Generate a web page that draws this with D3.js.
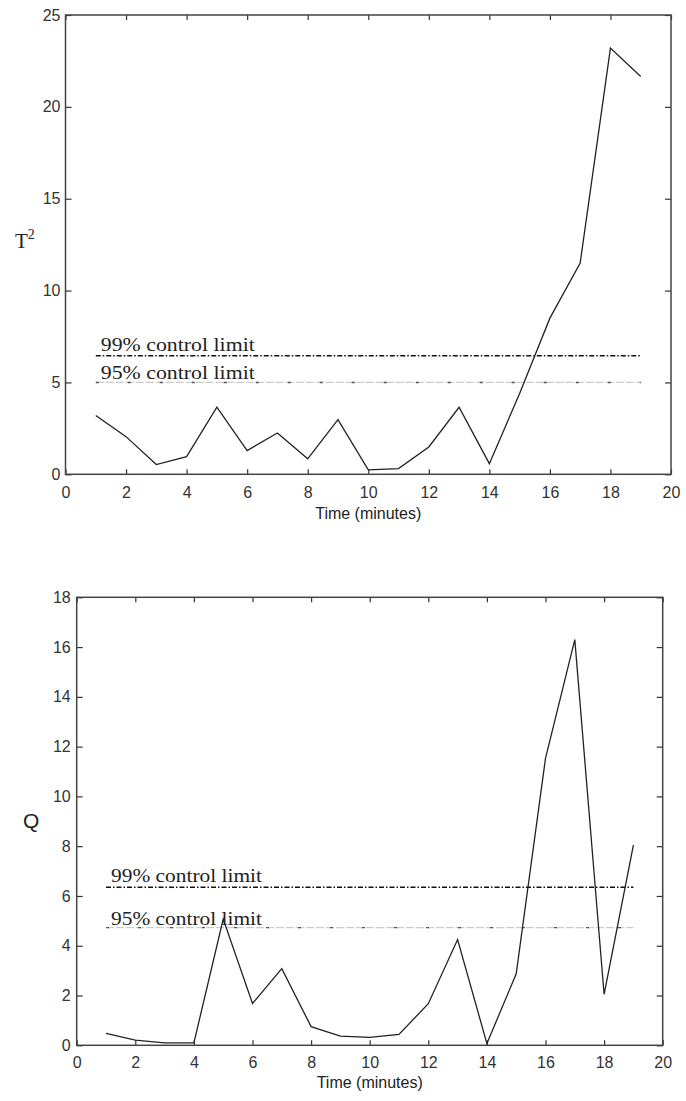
<!DOCTYPE html>
<html>
<head>
<meta charset="utf-8">
<script src="https://cdn.jsdelivr.net/npm/d3@7"></script>
<style>
  body { margin: 0; background: #fff; }
  svg { display: block; }
  .tick text { font-family: "Liberation Sans", Arial, sans-serif; font-size: 16px; fill: #333; }
</style>
</head>
<body>
<div id="chart"></div>
<script>
// time axis (minutes)
var minutes = [1,2,3,4,5,6,7,8,9,10,11,12,13,14,15,16,17,18,19]

// T^2 statistic
var t2Values = [3.2, 2.05, 0.53, 0.96, 3.65, 1.29, 2.25, 0.84, 2.98, 0.24, 0.31, 1.49, 3.65, 0.58, 4.4, 8.5, 11.5, 23.2, 21.65]
var t2Limit99 = 6.45
var t2Limit95 = 5.0

// Q statistic
var qValues = [0.48, 0.21, 0.1, 0.1, 5.07, 1.68, 3.08, 0.75, 0.37, 0.32, 0.44, 1.67, 4.25, 0.07, 2.87, 11.53, 16.3, 2.05, 8.04]
var qLimit99 = 6.35
var qLimit95 = 4.73

var xTicks = [0,2,4,6,8,10,12,14,16,18,20]
var t2Ticks = [0,5,10,15,20,25]
var qTicks = [0,2,4,6,8,10,12,14,16,18]

var label99 = "99% control limit"
var label95 = "95% control limit"
var xLabel = "Time (minutes)"

var svg = d3.select("#chart").append("svg")
    .attr("width", 686)
    .attr("height", 1101)

function drawPanel(opt) {
  var w = opt.right - opt.left, h = opt.bottom - opt.top
  var g = svg.append("g").attr("transform", "translate(" + opt.left + "," + opt.top + ")")

  var x = d3.scaleLinear().domain([0, 20]).range([0, w])
  var y = d3.scaleLinear().domain([0, opt.ymax]).range([h, 0])

  // axes with inward ticks, matlab style
  g.append("g").attr("transform", "translate(0," + h + ")")
    .call(d3.axisBottom(x).tickValues(xTicks).tickSizeInner(-5).tickSizeOuter(0).tickPadding(opt.xPad))
  g.append("g")
    .call(d3.axisTop(x).tickValues(xTicks).tickSizeInner(-5).tickSizeOuter(0).tickFormat(""))
  g.append("g")
    .call(d3.axisLeft(y).tickValues(opt.yTicks).tickSizeInner(-6).tickSizeOuter(0).tickPadding(opt.yPad))
  g.append("g").attr("transform", "translate(" + w + ",0)")
    .call(d3.axisRight(y).tickValues(opt.yTicks).tickSizeInner(-6).tickSizeOuter(0).tickFormat(""))
  g.selectAll(".domain").remove()
  g.selectAll(".tick line").attr("stroke", "#333").attr("stroke-width", 1.2)

  g.append("rect")
    .attr("width", w).attr("height", h)
    .attr("fill", "none").attr("stroke", "#444").attr("stroke-width", 1.5)

  // control limits
  var x0 = x(minutes[0]), x1 = x(minutes[minutes.length - 1])
  g.append("line")
    .attr("x1", x0).attr("x2", x1)
    .attr("y1", y(opt.lim99)).attr("y2", y(opt.lim99))
    .attr("stroke", "#111").attr("stroke-width", 1.6)
    .attr("stroke-dasharray", "5,2,1.5,2")
  g.append("line")
    .attr("x1", x0).attr("x2", x1)
    .attr("y1", y(opt.lim95)).attr("y2", y(opt.lim95))
    .attr("stroke", "#ccc").attr("stroke-width", 1.2)
    .attr("stroke-dasharray", "8,2")
  g.append("line")
    .attr("x1", x0).attr("x2", x1)
    .attr("y1", y(opt.lim95)).attr("y2", y(opt.lim95))
    .attr("stroke", "#555").attr("stroke-width", 1.4)
    .attr("stroke-dasharray", "3,29")

  g.append("text")
    .attr("x", x0 + 5).attr("y", y(opt.lim99) - 5)
    .attr("font-family", "Liberation Serif, Times New Roman, serif")
    .attr("font-size", 19).attr("fill", "#222")
    .attr("textLength", opt.labelW).attr("lengthAdjust", "spacingAndGlyphs")
    .text(label99)
  g.append("text")
    .attr("x", x0 + 5).attr("y", y(opt.lim95) - 3)
    .attr("font-family", "Liberation Serif, Times New Roman, serif")
    .attr("font-size", 19).attr("fill", "#222")
    .attr("textLength", opt.labelW).attr("lengthAdjust", "spacingAndGlyphs")
    .text(label95)

  // statistic line
  var line = d3.line()
    .x(function(d, i){ return x(minutes[i]) })
    .y(function(d){ return y(d) })
  g.append("path")
    .datum(opt.values)
    .attr("d", line)
    .attr("fill", "none")
    .attr("stroke", "#222")
    .attr("stroke-width", 1.3)

  // x label
  g.append("text")
    .attr("x", w / 2).attr("y", h + opt.xLabelOff)
    .attr("text-anchor", "middle")
    .attr("font-family", "Liberation Sans, Arial, sans-serif")
    .attr("font-size", 16).attr("fill", "#222")
    .text(xLabel)

  return g
}

var top = drawPanel({left: 65.5, right: 671, top: 15, bottom: 474.3, ymax: 25, yTicks: t2Ticks,
  values: t2Values, lim99: t2Limit99, lim95: t2Limit95, xPad: 12, yPad: 5, labelW: 154, xLabelOff: 45})

// T^2 label (serif with superscript)
var t2lab = svg.append("text")
    .attr("x", 15).attr("y", 248)
    .attr("font-family", "Liberation Serif, Times New Roman, serif")
    .attr("font-size", 21).attr("fill", "#222")
t2lab.append("tspan").text("T")
t2lab.append("tspan").attr("dy", -9).attr("font-size", 14).text("2")

var bottom = drawPanel({left: 76.7, right: 662.7, top: 597.3, bottom: 1045.3, ymax: 18, yTicks: qTicks,
  values: qValues, lim99: qLimit99, lim95: qLimit95, xPad: 11, yPad: 6, labelW: 151, xLabelOff: 43})

svg.append("text")
    .attr("x", 23).attr("y", 828)
    .attr("font-family", "Liberation Sans, Arial, sans-serif")
    .attr("font-size", 21).attr("fill", "#222")
    .text("Q")
</script>
</body>
</html>
